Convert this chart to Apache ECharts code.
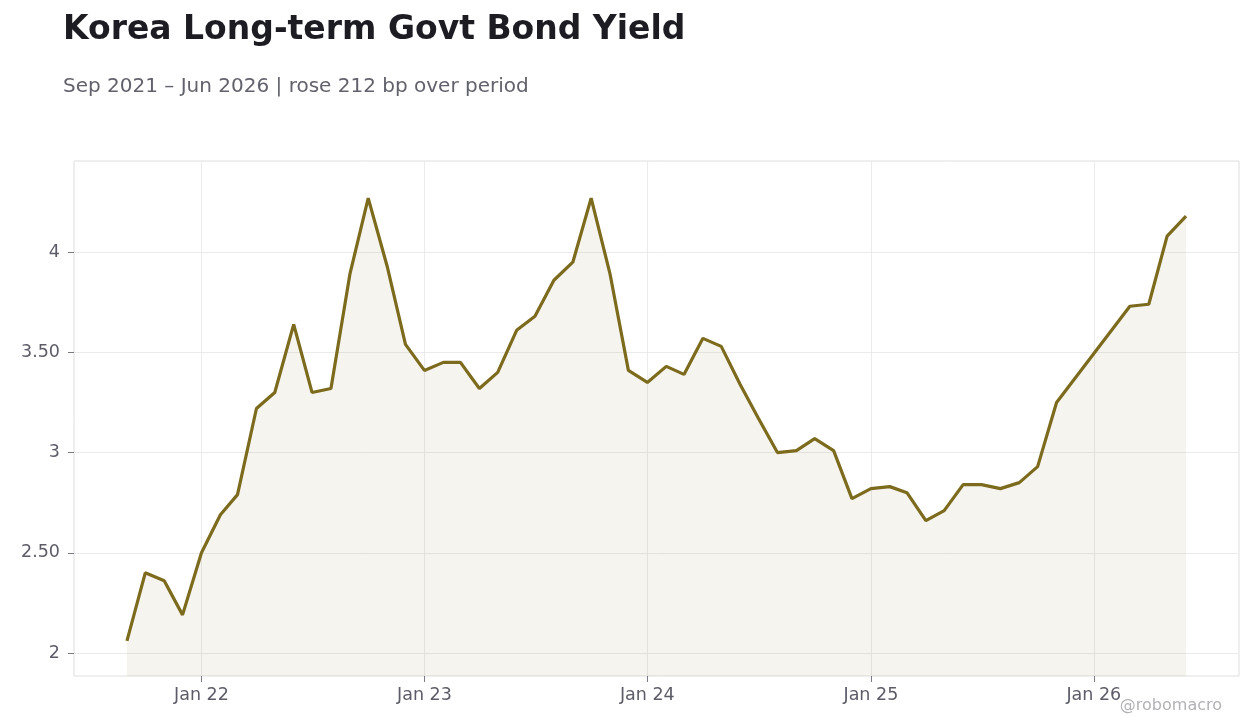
<!DOCTYPE html>
<html>
<head>
<meta charset="utf-8">
<title>Korea Long-term Govt Bond Yield</title>
<script src="https://cdn.jsdelivr.net/npm/echarts@6/dist/echarts.min.js"></script>
<style>
  html, body { margin: 0; padding: 0; background: #fff; }
  #chart { width: 1260px; height: 728px; }
</style>
</head>
<body>
<div id="chart"></div>
<script>
// monthly readings, Sep 2021 .. Jun 2026 (null = no print that month)
var months = [
  '2021-09','2021-10','2021-11','2021-12',
  '2022-01','2022-02','2022-03','2022-04','2022-05','2022-06','2022-07','2022-08','2022-09','2022-10','2022-11','2022-12',
  '2023-01','2023-02','2023-03','2023-04','2023-05','2023-06','2023-07','2023-08','2023-09','2023-10','2023-11','2023-12',
  '2024-01','2024-02','2024-03','2024-04','2024-05','2024-06','2024-07','2024-08','2024-09','2024-10','2024-11','2024-12',
  '2025-01','2025-02','2025-03','2025-04','2025-05','2025-06','2025-07','2025-08','2025-09','2025-10','2025-11','2025-12',
  '2026-01','2026-02','2026-03','2026-04','2026-05','2026-06'
];
var yields = [
  2.06, 2.40, 2.36, 2.19,
  2.50, 2.69, 2.79, 3.22, 3.30, 3.64, 3.30, 3.32, 3.89, 4.27, 3.93, 3.54,
  3.41, 3.45, 3.45, 3.32, 3.40, 3.61, 3.68, 3.86, 3.95, 4.27, 3.89, 3.41,
  3.35, 3.43, 3.39, 3.57, 3.53, 3.34, 3.17, 3.00, 3.01, 3.07, 3.01, 2.77,
  2.82, 2.83, 2.80, 2.66, 2.71, 2.84, 2.84, 2.82, 2.85, 2.93, 3.25, null,
  null, null, 3.73, 3.74, 4.08, 4.18
];
var yTicks = [2, 2.5, 3, 3.5, 4];
var xTicks = ['2022-01','2023-01','2024-01','2025-01','2026-01'];

var toTs = s => { var p = s.split('-'); return new Date(+p[0], +p[1]-1, 1).getTime(); };
var pts = months.map((m,i)=>[toTs(m), yields[i]]);
var t0 = toTs(months[0]), t1 = toTs(months[months.length-1]);
var pad = (t1 - t0) * 0.05;
var xTickTs = xTicks.map(toTs);

var FONT = 'DejaVu Sans';
var chart = echarts.init(document.getElementById('chart'), null, {renderer:'canvas'});
chart.setOption({
  backgroundColor: '#ffffff',
  animation: false,
  title: [
    {text: 'Korea Long-term Govt Bond Yield', left: 63, top: 14, padding: 0,
     textStyle: {fontFamily: FONT, fontSize: 33, fontWeight: 'bold', color: '#1c1c22'}},
    {text: 'Sep 2021 – Jun 2026 | rose 212 bp over period', left: 63, top: 77, padding: 0,
     textStyle: {fontFamily: FONT, fontSize: 20, fontWeight: 'normal', color: '#62626c'}}
  ],
  graphic: [
    {type: 'text', right: 38, bottom: 14,
     style: {text: '@robomacro', fill: '#b2b2b6', font: '16px "DejaVu Sans"'}}
  ],
  grid: {left: 74, right: 21, top: 161, bottom: 52, show: true,
         borderColor: '#dedede', borderWidth: 1, backgroundColor: 'transparent'},
  xAxis: {
    type: 'value', min: t0 - pad, max: t1 + pad,
    axisLine: {show: false},
    axisTick: {show: true, length: 6, lineStyle: {color: '#7a7a84'}, customValues: xTickTs},
    axisLabel: {customValues: xTickTs, margin: 10, color: '#5c5c68', fontFamily: FONT, fontSize: 17.5,
      formatter: v => 'Jan ' + String(new Date(v).getFullYear()).slice(2)},
    splitLine: {show: true, lineStyle: {color: '#ebebeb', width: 1}}
  },
  yAxis: {
    type: 'value', min: 1.885, max: 4.455,
    axisLine: {show: false},
    axisTick: {show: true, length: 6, lineStyle: {color: '#7a7a84'}, customValues: yTicks},
    axisLabel: {customValues: yTicks, margin: 14, color: '#5c5c68', fontFamily: FONT, fontSize: 17.5,
      formatter: v => Number.isInteger(v) ? String(v) : v.toFixed(2)},
    splitLine: {show: true, lineStyle: {color: '#ebebeb', width: 1}}
  },
  series: [{
    type: 'line', data: pts, connectNulls: true, showSymbol: false,
    lineStyle: {color: '#7c6a1d', width: 3.2},
    itemStyle: {color: '#7c6a1d'},
    areaStyle: {color: 'rgba(124,106,29,0.1)'}
  }]
});
</script>
</body>
</html>
